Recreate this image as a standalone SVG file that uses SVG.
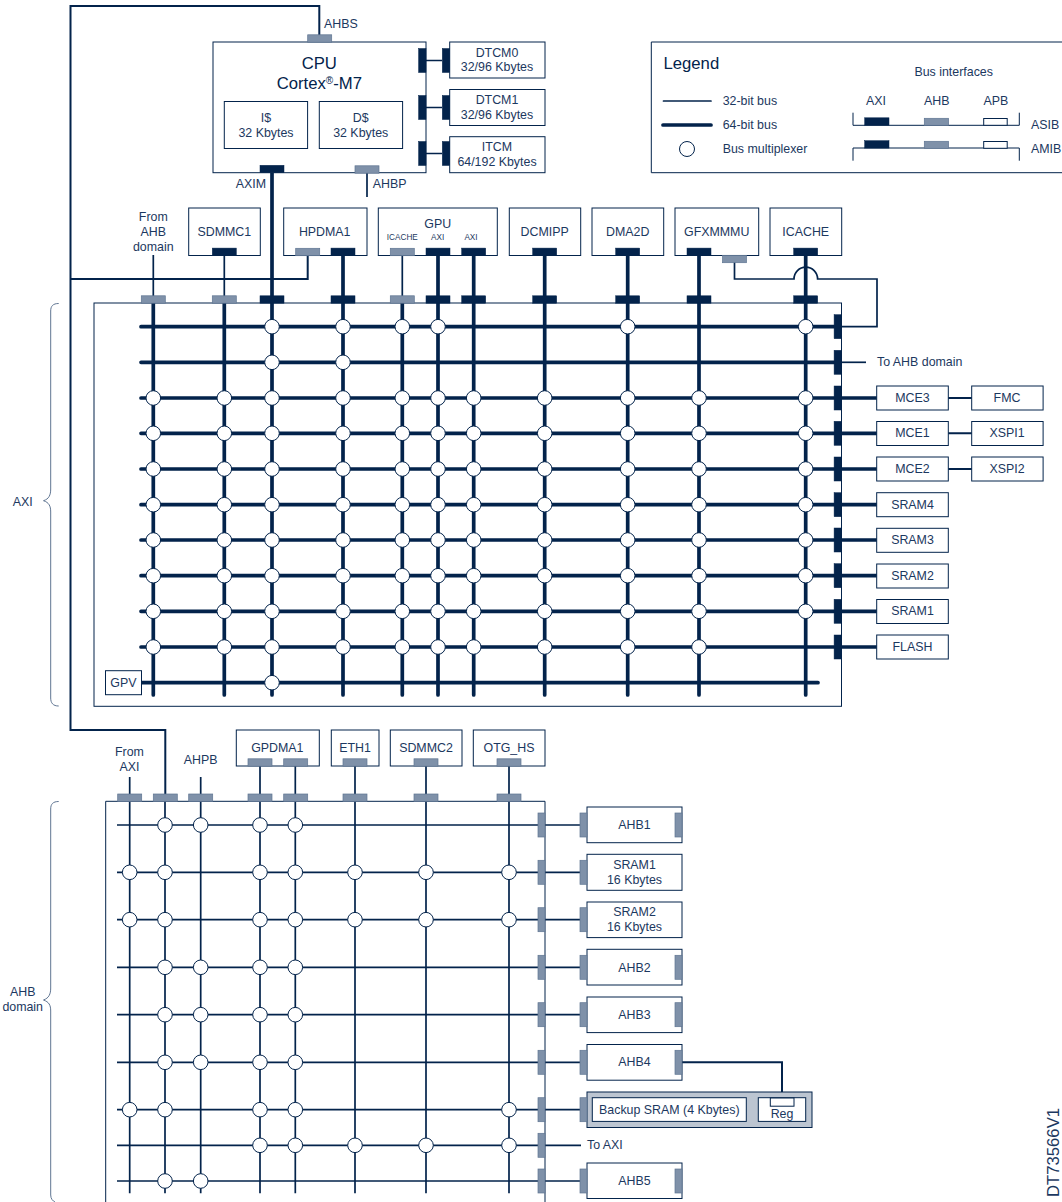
<svg xmlns="http://www.w3.org/2000/svg" width="1062" height="1202" viewBox="0 0 1062 1202">
<style>
text{font-family:"Liberation Sans",Arial,sans-serif;font-size:12.4px;fill:#1c3860}
.c{text-anchor:middle}
.s{font-size:8.2px}
.l{font-size:16.7px;fill:#03234b}
.b{fill:#fff;stroke:#03234b;stroke-width:1}
.f{fill:none;stroke:#03234b;stroke-width:1}
.br{fill:none;stroke:#5f7592;stroke-width:1}
.t{fill:none;stroke:#03234b;stroke-width:1.7}
.w{fill:none;stroke:#03234b;stroke-width:3.7}
.rc{stroke-linecap:round}
.d{fill:#03234b;stroke:#03234b;stroke-width:.5}
.g{fill:#7f91a9;stroke:#5f7592;stroke-width:.7}
.o{fill:#fff;stroke:#03234b;stroke-width:1}
.m{fill:#fff;stroke:#03234b;stroke-width:1}
</style>
<defs>
<circle id="m" class="m" r="7.3"/>
<rect id="pdh" class="d" x="-12" y="-3.7" width="24" height="7.4"/>
<rect id="pgh" class="g" x="-12" y="-3.7" width="24" height="7.4"/>
<rect id="pdv" class="d" x="-3.7" y="-12" width="7.4" height="24"/>
<rect id="pgv" class="g" x="-3.5" y="-12" width="7" height="24"/>
<g id="axi11"><use href="#m" x="153.3"/><use href="#m" x="224.3"/><use href="#m" x="272"/><use href="#m" x="343"/><use href="#m" x="402.3"/><use href="#m" x="438"/><use href="#m" x="473.7"/><use href="#m" x="544.7"/><use href="#m" x="627.7"/><use href="#m" x="699"/><use href="#m" x="805.7"/></g>
</defs>

<rect width="1062" height="1202" fill="#fff"/>

<g id="axi-fabric"><rect class="f" x="94" y="303" width="747.5" height="403.3"/></g>
<g id="ahb-fabric"><path class="f" d="M105.7 1202V801.3H545V1202"/></g>

<g id="connectors">
<!-- CPU links -->
<path class="t" style="stroke-width:2" d="M319.3 35V6H70.5V730H165.3V794"/>
<path class="t" style="stroke-width:2" d="M70.5 279H307.7V256"/>
<path class="t" d="M367 173V197"/>
<path class="w" d="M272 173V296"/>
<path class="t" d="M426 60.5H442M426 107.5H442M426 153.5H442"/>
<!-- AXI masters -->
<path class="t" d="M153.3 255V296M224.3 255V296M402.3 255V296"/>
<path class="w" d="M343 255V296M438 255V296M473.7 255V296M544.7 255V296M627.7 255V296M699 255V296M805.7 255V296"/>
<path class="t" d="M734.5 262V279H794A11.8 12 0 0 1 817.6 279H877V326.7H841.5"/>
<!-- AXI verticals -->
<path class="w rc" d="M153.3 303V695M224.3 303V695M272 303V695M343 303V695M402.3 303V695M438 303V695M473.7 303V695M544.7 303V695M627.7 303V695M699 303V695M805.7 303V695"/>
<!-- AXI horizontals -->
<path class="w rc" d="M141 326.7H834M141 362.3H834M141 398H834M141 433.3H834M141 469H834M141 504.7H834M141 540H834M141 575.7H834M141 611.3H834M141 647H834"/>
<path class="w rc" d="M142 682.7H818"/>
<path class="t" d="M841.5 362.3H866"/>
<path class="w" d="M841.5 398H877M841.5 433.3H877M841.5 469H877M841.5 504.7H877M841.5 540H877M841.5 575.7H877M841.5 611.3H877M841.5 647H877"/>
<path class="t" style="stroke-width:2" d="M948 398H972M948 433.3H972M948 469H972"/>
<!-- AHB tops -->
<path class="t" d="M129.7 777V794M200.7 777V794M260 766V794M295.3 766V794M355 766V794M426 766V794M509 766V794"/>
<!-- AHB verticals -->
<path class="t" d="M129.7 801V1193.3M165 801V1193.3M200.7 801V1193.3M260 801V1193.3M295.3 801V1193.3M355 801V1193.3M426 801V1193.3M509 801V1193.3"/>
<!-- AHB horizontals -->
<path class="t" d="M117 825H580M117 872.3H580M117 919.7H580M117 967.3H580M117 1014.7H580M117 1062.3H580M117 1109.7H580M117 1145.3H581M117 1181H580"/>
<path class="t" style="stroke-width:2" d="M682 1062.3H782V1098"/>
</g>

<g id="multiplexers-axi">
<use href="#m" x="272" y="326.7"/><use href="#m" x="343" y="326.7"/><use href="#m" x="402.3" y="326.7"/><use href="#m" x="438" y="326.7"/><use href="#m" x="627.7" y="326.7"/><use href="#m" x="805.7" y="326.7"/>
<use href="#m" x="272" y="362.3"/><use href="#m" x="343" y="362.3"/>
<use href="#axi11" y="398"/><use href="#axi11" y="433.3"/><use href="#axi11" y="469"/><use href="#axi11" y="504.7"/><use href="#axi11" y="540"/><use href="#axi11" y="575.7"/><use href="#axi11" y="611.3"/>
<use href="#m" x="153.3" y="647"/><use href="#m" x="224.3" y="647"/><use href="#m" x="272" y="647"/><use href="#m" x="343" y="647"/><use href="#m" x="402.3" y="647"/><use href="#m" x="438" y="647"/><use href="#m" x="473.7" y="647"/><use href="#m" x="544.7" y="647"/><use href="#m" x="627.7" y="647"/><use href="#m" x="699" y="647"/>
<use href="#m" x="272" y="682.7"/>
</g>

<g id="multiplexers-ahb">
<use href="#m" x="165" y="825"/><use href="#m" x="200.7" y="825"/><use href="#m" x="260" y="825"/><use href="#m" x="295.3" y="825"/>
<use href="#m" x="129.7" y="872.3"/><use href="#m" x="165" y="872.3"/><use href="#m" x="260" y="872.3"/><use href="#m" x="295.3" y="872.3"/><use href="#m" x="355" y="872.3"/><use href="#m" x="426" y="872.3"/><use href="#m" x="509" y="872.3"/>
<use href="#m" x="129.7" y="919.7"/><use href="#m" x="165" y="919.7"/><use href="#m" x="260" y="919.7"/><use href="#m" x="295.3" y="919.7"/><use href="#m" x="355" y="919.7"/><use href="#m" x="426" y="919.7"/><use href="#m" x="509" y="919.7"/>
<use href="#m" x="165" y="967.3"/><use href="#m" x="200.7" y="967.3"/><use href="#m" x="260" y="967.3"/><use href="#m" x="295.3" y="967.3"/>
<use href="#m" x="165" y="1014.7"/><use href="#m" x="200.7" y="1014.7"/><use href="#m" x="260" y="1014.7"/><use href="#m" x="295.3" y="1014.7"/>
<use href="#m" x="165" y="1062.3"/><use href="#m" x="200.7" y="1062.3"/><use href="#m" x="260" y="1062.3"/><use href="#m" x="295.3" y="1062.3"/>
<use href="#m" x="129.7" y="1109.7"/><use href="#m" x="165" y="1109.7"/><use href="#m" x="260" y="1109.7"/><use href="#m" x="295.3" y="1109.7"/><use href="#m" x="509" y="1109.7"/>
<use href="#m" x="260" y="1145.3"/><use href="#m" x="295.3" y="1145.3"/><use href="#m" x="355" y="1145.3"/><use href="#m" x="426" y="1145.3"/><use href="#m" x="509" y="1145.3"/>
<use href="#m" x="165" y="1181"/><use href="#m" x="200.7" y="1181"/>
</g>

<g id="axi-ports">
<use href="#pgh" x="153.3" y="299.5"/><use href="#pgh" x="224.3" y="299.5"/><use href="#pdh" x="272" y="299.5"/><use href="#pdh" x="343" y="299.5"/><use href="#pgh" x="402.3" y="299.5"/><use href="#pdh" x="438" y="299.5"/><use href="#pdh" x="473.7" y="299.5"/><use href="#pdh" x="544.7" y="299.5"/><use href="#pdh" x="627.7" y="299.5"/><use href="#pdh" x="699" y="299.5"/><use href="#pdh" x="805.7" y="299.5"/>
<use href="#pdv" x="837.8" y="326.7"/><use href="#pdv" x="837.8" y="362.3"/><use href="#pdv" x="837.8" y="398"/><use href="#pdv" x="837.8" y="433.3"/><use href="#pdv" x="837.8" y="469"/><use href="#pdv" x="837.8" y="504.7"/><use href="#pdv" x="837.8" y="540"/><use href="#pdv" x="837.8" y="575.7"/><use href="#pdv" x="837.8" y="611.3"/><use href="#pdv" x="837.8" y="647"/>
</g>
<g id="ahb-ports">
<use href="#pgh" x="129.7" y="797.7"/><use href="#pgh" x="165.3" y="797.7"/><use href="#pgh" x="200.7" y="797.7"/><use href="#pgh" x="260" y="797.7"/><use href="#pgh" x="295.7" y="797.7"/><use href="#pgh" x="355" y="797.7"/><use href="#pgh" x="426" y="797.7"/><use href="#pgh" x="509" y="797.7"/>
<use href="#pgv" x="541.5" y="825"/><use href="#pgv" x="541.5" y="872.3"/><use href="#pgv" x="541.5" y="919.7"/><use href="#pgv" x="541.5" y="967.3"/><use href="#pgv" x="541.5" y="1014.7"/><use href="#pgv" x="541.5" y="1062.3"/><use href="#pgv" x="541.5" y="1109.7"/><use href="#pgv" x="541.5" y="1145.3"/><use href="#pgv" x="541.5" y="1181"/>
</g>

<g id="cpu">
<rect class="b" x="213" y="42" width="213" height="130.7"/>
<use href="#pgh" x="319.7" y="38.5"/>
<use href="#pdh" x="272" y="169"/>
<use href="#pgh" x="367" y="169.5"/>
<use href="#pdv" x="422.3" y="60.5"/><use href="#pdv" x="422.3" y="107.5"/><use href="#pdv" x="422.3" y="153.5"/>
<text class="c l" x="319.3" y="69">CPU</text>
<text class="c l" x="319.3" y="89">Cortex<tspan font-size="10" dy="-5.5" style="font-size:10px">®</tspan><tspan dy="5.5">-M7</tspan></text>
<text x="324" y="28">AHBS</text>
<text x="235.7" y="188">AXIM</text>
<text x="372.7" y="188">AHBP</text>
</g>
<g id="icache-mem"><rect class="b" x="224.3" y="101.5" width="83.3" height="47"/><text class="c" x="266" y="121.7">I$</text><text class="c" x="266" y="136.7">32 Kbytes</text></g>
<g id="dcache-mem"><rect class="b" x="319.3" y="101.5" width="83.3" height="47"/><text class="c" x="360.7" y="121.7">D$</text><text class="c" x="360.7" y="136.7">32 Kbytes</text></g>
<g id="dtcm0"><rect class="b" x="449.7" y="42" width="95.3" height="36"/><use href="#pdv" x="446" y="60.5"/><text class="c" x="497" y="56.7">DTCM0</text><text class="c" x="497" y="71.3">32/96 Kbytes</text></g>
<g id="dtcm1"><rect class="b" x="449.7" y="89.5" width="95.3" height="36"/><use href="#pdv" x="446" y="107.5"/><text class="c" x="497" y="104.3">DTCM1</text><text class="c" x="497" y="119.3">32/96 Kbytes</text></g>
<g id="itcm"><rect class="b" x="449.7" y="136.7" width="95.3" height="36"/><use href="#pdv" x="446" y="153.5"/><text class="c" x="497" y="151.3">ITCM</text><text class="c" x="497" y="166">64/192 Kbytes</text></g>

<g id="legend">
<path class="f" fill="#fff" d="M1063 42H651.3V172.7H1063"/>
<text class="l" x="663.5" y="69">Legend</text>
<path class="t rc" d="M663.5 101H711"/>
<path class="w rc" d="M663 125H711"/>
<circle class="m" cx="687" cy="149" r="7.5"/>
<text x="722.7" y="105">32-bit bus</text>
<text x="722.7" y="129">64-bit bus</text>
<text x="722.7" y="153">Bus multiplexer</text>
<text class="c" x="953.7" y="76">Bus interfaces</text>
<text class="c" x="876" y="105">AXI</text>
<text class="c" x="936.7" y="105">AHB</text>
<text class="c" x="996" y="105">APB</text>
<path class="f" d="M853 112.7V125.3H1019.3V112.7"/>
<path class="f" d="M853 160.7V148H1019.3V160.7"/>
<rect class="d" x="864.7" y="117.8" width="24.3" height="7.4"/><rect class="g" x="924.3" y="118.3" width="24.3" height="7"/><rect class="o" x="983.7" y="118.5" width="23.5" height="6.8"/>
<rect class="d" x="864.7" y="140.7" width="24.3" height="7.4"/><rect class="g" x="924.3" y="141.3" width="24.3" height="7"/><rect class="o" x="983.7" y="141.5" width="23.5" height="6.8"/>
<text x="1031" y="129">ASIB</text>
<text x="1031" y="153">AMIB</text>
</g>

<g id="from-ahb-label"><text class="c" x="153.3" y="221">From</text><text class="c" x="153.3" y="236">AHB</text><text class="c" x="153.3" y="251">domain</text></g>
<g id="sdmmc1"><rect class="b" x="188.7" y="208" width="71.6" height="47.5"/><use href="#pdh" x="224.3" y="251.8"/><text class="c" x="224.3" y="236">SDMMC1</text></g>
<g id="hpdma1"><rect class="b" x="283.7" y="208" width="83.3" height="47.5"/><use href="#pgh" x="307.7" y="252"/><use href="#pdh" x="343" y="251.8"/><text class="c" x="324.7" y="236">HPDMA1</text></g>
<g id="gpu"><rect class="b" x="378.3" y="208" width="119" height="47.5"/><use href="#pgh" x="402.3" y="252"/><use href="#pdh" x="438" y="251.8"/><use href="#pdh" x="473.7" y="251.8"/><text class="c" x="437.7" y="227.7">GPU</text><text class="c s" x="402.3" y="240">ICACHE</text><text class="c s" x="437.7" y="240">AXI</text><text class="c s" x="471" y="240">AXI</text></g>
<g id="dcmipp"><rect class="b" x="509.3" y="208" width="71.4" height="47.5"/><use href="#pdh" x="544.7" y="251.8"/><text class="c" x="544.7" y="236">DCMIPP</text></g>
<g id="dma2d"><rect class="b" x="592" y="208" width="71.7" height="47.5"/><use href="#pdh" x="627.7" y="251.8"/><text class="c" x="627.7" y="236">DMA2D</text></g>
<g id="gfxmmmu"><rect class="b" x="675" y="208" width="83.7" height="47.5"/><use href="#pdh" x="699" y="251.8"/><use href="#pgh" x="734.5" y="259"/><text class="c" x="716.7" y="236">GFXMMMU</text></g>
<g id="icache"><rect class="b" x="770" y="208" width="71.7" height="47.5"/><use href="#pdh" x="805.7" y="251.8"/><text class="c" x="805.7" y="236">ICACHE</text></g>

<g id="gpv"><rect class="b" x="105.5" y="670.7" width="36" height="24"/><text class="c" x="123.4" y="686.8">GPV</text></g>
<g id="to-ahb-label"><text x="877" y="366">To AHB domain</text></g>
<g id="mce3"><rect class="b" x="876.7" y="386" width="71.6" height="24"/><text class="c" x="912.5" y="402">MCE3</text></g>
<g id="mce1"><rect class="b" x="876.7" y="421.5" width="71.6" height="24"/><text class="c" x="912.5" y="437.3">MCE1</text></g>
<g id="mce2"><rect class="b" x="876.7" y="457" width="71.6" height="24"/><text class="c" x="912.5" y="473">MCE2</text></g>
<g id="sram4"><rect class="b" x="876.7" y="492.7" width="71.6" height="24"/><text class="c" x="912.5" y="508.7">SRAM4</text></g>
<g id="sram3"><rect class="b" x="876.7" y="528.3" width="71.6" height="24"/><text class="c" x="912.5" y="544">SRAM3</text></g>
<g id="sram2-axi"><rect class="b" x="876.7" y="564" width="71.6" height="24"/><text class="c" x="912.5" y="579.7">SRAM2</text></g>
<g id="sram1-axi"><rect class="b" x="876.7" y="599.5" width="71.6" height="24"/><text class="c" x="912.5" y="615.3">SRAM1</text></g>
<g id="flash"><rect class="b" x="876.7" y="635" width="71.6" height="24"/><text class="c" x="912.5" y="651">FLASH</text></g>
<g id="fmc"><rect class="b" x="971.7" y="386" width="71.4" height="24"/><text class="c" x="1007" y="402">FMC</text></g>
<g id="xspi1"><rect class="b" x="971.7" y="421.5" width="71.4" height="24"/><text class="c" x="1007" y="437.3">XSPI1</text></g>
<g id="xspi2"><rect class="b" x="971.7" y="457" width="71.4" height="24"/><text class="c" x="1007" y="473">XSPI2</text></g>

<g id="from-axi-label"><text class="c" x="129.5" y="756">From</text><text class="c" x="129.5" y="771">AXI</text></g>
<g id="ahpb-label"><text class="c" x="200.7" y="764">AHPB</text></g>
<g id="gpdma1"><rect class="b" x="236.3" y="730" width="83" height="36"/><use href="#pgh" x="260" y="762.5"/><use href="#pgh" x="295.7" y="762.5"/><text class="c" x="277.3" y="751.7">GPDMA1</text></g>
<g id="eth1"><rect class="b" x="331.3" y="730" width="47.7" height="36"/><use href="#pgh" x="355" y="762.5"/><text class="c" x="355" y="751.7">ETH1</text></g>
<g id="sdmmc2"><rect class="b" x="390.3" y="730" width="71.7" height="36"/><use href="#pgh" x="426" y="762.5"/><text class="c" x="426" y="751.7">SDMMC2</text></g>
<g id="otg-hs"><rect class="b" x="473.3" y="730" width="71.7" height="36"/><use href="#pgh" x="509" y="762.5"/><text class="c" x="509" y="751.7">OTG_HS</text></g>

<g id="ahb1"><rect class="b" x="587" y="807" width="95" height="35.7"/><use href="#pgv" x="583.5" y="825"/><use href="#pgv" x="678.5" y="825"/><text class="c" x="634.5" y="829.3">AHB1</text></g>
<g id="sram1-ahb"><rect class="b" x="587" y="854.3" width="95" height="36"/><use href="#pgv" x="583.5" y="872.3"/><text class="c" x="634.5" y="869">SRAM1</text><text class="c" x="634.5" y="883.7">16 Kbytes</text></g>
<g id="sram2-ahb"><rect class="b" x="587" y="902" width="95" height="35.6"/><use href="#pgv" x="583.5" y="919.7"/><text class="c" x="634.5" y="916">SRAM2</text><text class="c" x="634.5" y="930.7">16 Kbytes</text></g>
<g id="ahb2"><rect class="b" x="587" y="949.3" width="95" height="35.7"/><use href="#pgv" x="583.5" y="967.3"/><use href="#pgv" x="678.5" y="967.3"/><text class="c" x="634.5" y="971.5">AHB2</text></g>
<g id="ahb3"><rect class="b" x="587" y="997" width="95" height="35.6"/><use href="#pgv" x="583.5" y="1014.7"/><use href="#pgv" x="678.5" y="1014.7"/><text class="c" x="634.5" y="1019">AHB3</text></g>
<g id="ahb4"><rect class="b" x="587" y="1044.5" width="95" height="35.7"/><use href="#pgv" x="583.5" y="1062.3"/><use href="#pgv" x="678.5" y="1062.3"/><text class="c" x="634.5" y="1066.3">AHB4</text></g>
<g id="backup-sram">
<rect x="587" y="1092" width="225" height="35.5" fill="#bcc5d1" stroke="#03234b"/>
<use href="#pgv" x="583.5" y="1109.7"/>
<rect class="b" x="592.3" y="1097.7" width="154" height="23.7"/>
<text class="c" x="669.3" y="1114">Backup SRAM (4 Kbytes)</text>
<rect class="b" x="758.3" y="1097.7" width="47.4" height="23.7"/>
<rect class="b" x="770.3" y="1098" width="23.7" height="8.2"/>
<text class="c" x="782" y="1118.3">Reg</text>
</g>
<g id="to-axi-label"><text x="587" y="1149.3">To AXI</text></g>
<g id="ahb5"><rect class="b" x="587" y="1163" width="95" height="35.5"/><use href="#pgv" x="583.5" y="1181"/><use href="#pgv" x="678.5" y="1181"/><text class="c" x="634.5" y="1185.3">AHB5</text></g>

<g id="axi-brace">
<path class="br" d="M58.7 303.5C53 303.5 50.7 306 50.7 311V489C50.7 495 49 499 43.5 500.7C49 502.5 50.7 506 50.7 512V698C50.7 703 53 706 58.7 706"/>
<text class="c" x="22.7" y="506">AXI</text>
</g>
<g id="ahb-brace">
<path class="br" d="M58.7 801.5C53 801.5 50.7 804 50.7 809V988C50.7 994 49 998 43.5 1000C49 1002 50.7 1005 50.7 1011V1195C50.7 1199 53 1201 55 1202"/>
<text class="c" x="22.7" y="996">AHB</text>
<text class="c" x="22.7" y="1011">domain</text>
</g>
<text transform="translate(1059 1197) rotate(-90)" style="font-size:16.7px">DT73566V1</text>
</svg>
